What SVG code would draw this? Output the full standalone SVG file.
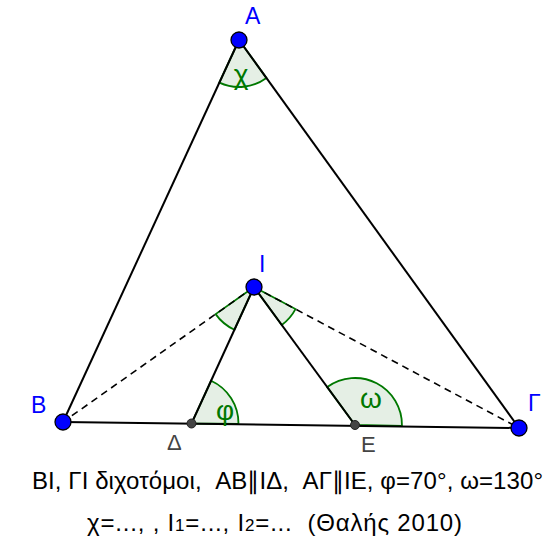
<svg xmlns="http://www.w3.org/2000/svg" width="545" height="546" viewBox="0 0 545 546">
<style>
.sector{fill:#006400;fill-opacity:0.1;stroke:#007800;stroke-width:1.8}
.line{stroke:#000;stroke-width:2;fill:none}
.dash{stroke:#000;stroke-width:1.6;fill:none;stroke-dasharray:7 5}
.pt{fill:#0000ff;stroke:#000;stroke-width:1.3}
.pt2{fill:#444;stroke:#222;stroke-width:1}
.lbl{font-family:"Liberation Sans",Arial,sans-serif;font-size:23px;fill:#0000ff}
.lbl2{font-family:"Liberation Sans",Arial,sans-serif;font-size:22px;fill:#444}
.ang{font-family:"Liberation Sans",Arial,sans-serif;font-size:28px;fill:#007800}
.cap{font-family:"Liberation Sans",Arial,sans-serif;font-size:24px;fill:#000}
</style>
<rect width="545" height="546" fill="#fff"/>
<g id="angles">
<path class="sector" d="M239,40 L219.33,82.68 A47,47 0 0 0 266.5,78.1 Z"/>
<path class="sector" d="M254,287 L215.62,314.13 A47,47 0 0 0 234.43,329.74 Z"/>
<path class="sector" d="M254,287 L281.76,324.93 A47,47 0 0 0 295.49,309.08 Z"/>
<path class="sector" d="M191.5,423.5 L211.07,380.76 A47,47 0 0 1 238.5,423.93 Z"/>
<path class="sector" d="M355,425 L327.24,387.07 A47,47 0 0 1 401.99,425.86 Z"/>
</g>
<g id="connectors">
<line class="line" x1="239" y1="40" x2="63" y2="422"/>
<line class="line" x1="239" y1="40" x2="519" y2="428"/>
<line class="line" x1="63" y1="422" x2="519" y2="428"/>
<line class="dash" x1="254" y1="287" x2="63" y2="422"/>
<line class="dash" x1="254" y1="287" x2="519" y2="428"/>
<line class="line" x1="254" y1="287" x2="191.5" y2="423.5"/>
<line class="line" x1="254" y1="287" x2="355" y2="425"/>
</g>
<g id="A"><circle class="pt" cx="239" cy="40" r="8"/><text class="lbl" x="245" y="24">A</text></g>
<g id="B"><circle class="pt" cx="63" cy="422" r="8"/><text class="lbl" x="31" y="413">B</text></g>
<g id="G"><circle class="pt" cx="519" cy="428" r="8"/><text class="lbl" x="528" y="411">Γ</text></g>
<g id="I"><circle class="pt" cx="254" cy="287" r="8"/><text class="lbl" x="259" y="272">I</text></g>
<g id="D"><circle class="pt2" cx="191.5" cy="423.5" r="4.5"/><text class="lbl2" x="167" y="450">Δ</text></g>
<g id="E"><circle class="pt2" cx="355" cy="425" r="4.5"/><text class="lbl2" x="361" y="452">E</text></g>
<g id="angle-labels">
<text class="ang" x="241" y="84" text-anchor="middle">χ</text>
<text class="ang" x="225" y="420" text-anchor="middle">φ</text>
<text class="ang" x="371" y="408" text-anchor="middle">ω</text>
</g>
<g id="caption">
<text class="cap" x="32" y="489" textLength="511" lengthAdjust="spacing" xml:space="preserve">BI, ΓΙ διχοτόμοι,  AB∥IΔ,  AΓ∥IE, φ=70°, ω=130°</text>
<text class="cap" x="87" y="531" textLength="375" lengthAdjust="spacing" xml:space="preserve">χ=..., , I<tspan font-size="17">1</tspan>=..., I<tspan font-size="17">2</tspan>=...  (Θαλής 2010)</text>
</g>
</svg>
